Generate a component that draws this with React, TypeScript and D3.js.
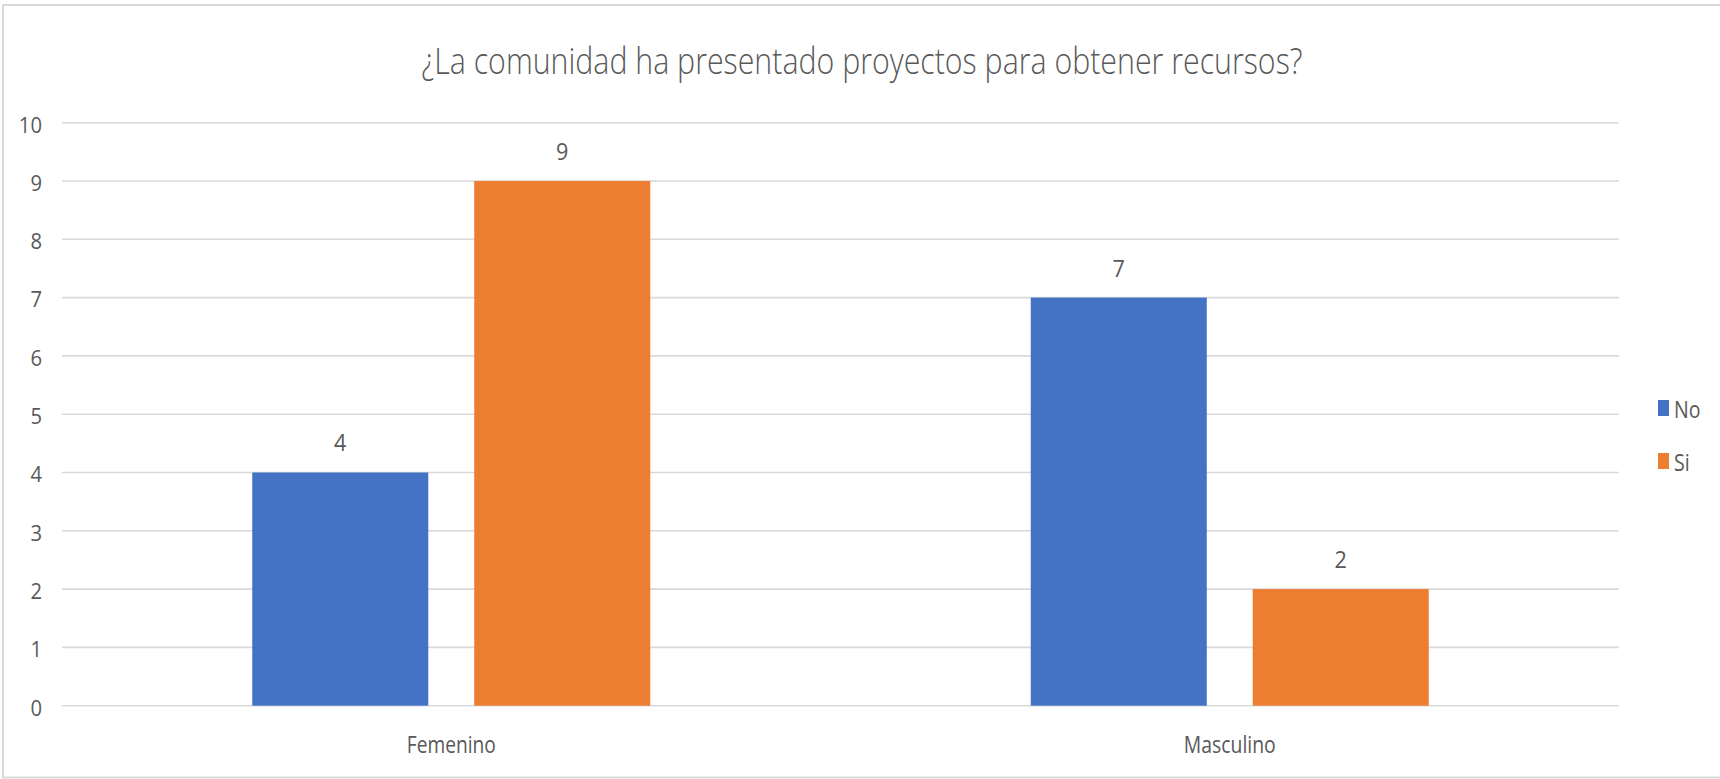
import React from "react";
import * as d3 from "d3";

const title = "¿La comunidad ha presentado proyectos para obtener recursos?";
const categories = ["Femenino", "Masculino"];
const seriesNames = ["No", "Si"];
const noValues = [4, 7];
const siValues = [9, 2];
const yTickValues = [0, 1, 2, 3, 4, 5, 6, 7, 8, 9, 10];
const seriesColors = ["#4472C4", "#ED7D31"];

const W = 1720;
const H = 779;
const FONT = "'Open Sans', 'Noto Sans', 'DejaVu Sans', sans-serif";
const TEXT = "#595959";
const GRID = "#d9d9d9";
const SX = 0.86;

function Txt({ x, y, size, children, anchor = "middle", weight = 400, sx = SX }: any) {
  return (
    <text
      transform={`translate(${x},${y}) scale(${sx},1)`}
      fontFamily={FONT}
      fontSize={size}
      fontWeight={weight}
      fill={TEXT}
      textAnchor={anchor}
      dominantBaseline="central"
    >
      {children}
    </text>
  );
}

export default function App() {
  const plotLeft = 62;
  const plotRight = 1619;
  const y = d3.scaleLinear().domain([0, 10]).range([705.7, 122.7]);
  const x0 = d3.scaleBand<string>().domain(categories).range([plotLeft, plotRight]).padding(0);
  const x1 = d3
    .scaleBand<string>()
    .domain(seriesNames)
    .range([0, x0.bandwidth()])
    .paddingInner(0.207)
    .paddingOuter(0.857);

  const series = [noValues, siValues];

  return (
    <svg
      width={W}
      height={H}
      style={{ position: "absolute", left: 0, top: 0, background: "#fff" }}
    >
      <rect x={0} y={0} width={W} height={H} fill="#fff" />
      <rect x={3} y={5} width={W + 20} height={772.5} fill="none" stroke={GRID} strokeWidth={2} />

      <text
        x={862}
        y={60}
        fontFamily={FONT}
        fontSize={36}
        fontWeight={300}
        fill={TEXT}
        textAnchor="middle"
        dominantBaseline="central"
        textLength={881}
        lengthAdjust="spacingAndGlyphs"
      >
        {title}
      </text>

      {yTickValues.map((t) => (
        <g key={t}>
          <line x1={plotLeft} x2={plotRight} y1={y(t)} y2={y(t)} stroke={GRID} strokeWidth={1.6} />
          <Txt x={42} y={y(t) + 1} size={22} anchor="end" sx={0.92}>
            {t}
          </Txt>
        </g>
      ))}

      {categories.map((c, ci) => (
        <g key={c}>
          {seriesNames.map((s, si) => {
            const v = series[si][ci];
            const bx = (x0(c) as number) + (x1(s) as number);
            const bw = x1.bandwidth();
            return (
              <g key={s}>
                <rect x={bx} y={y(v)} width={bw} height={y(0) - y(v)} fill={seriesColors[si]} />
                <Txt x={bx + bw / 2} y={y(v) - 30} size={24} sx={0.9}>
                  {v}
                </Txt>
              </g>
            );
          })}
          <text
            x={(x0(c) as number) + x0.bandwidth() / 2}
            y={744}
            fontFamily={FONT}
            fontSize={23}
            fill={TEXT}
            textAnchor="middle"
            dominantBaseline="central"
            textLength={ci === 0 ? 89 : 92}
            lengthAdjust="spacingAndGlyphs"
          >
            {c}
          </text>
        </g>
      ))}

      {seriesNames.map((s, si) => {
        const cy = 408 + si * 53;
        return (
          <g key={s}>
            <rect x={1658} y={cy - 8} width={11} height={16} fill={seriesColors[si]} />
            <Txt x={1674} y={cy + 1} size={23} anchor="start" sx={0.85}>
              {s}
            </Txt>
          </g>
        );
      })}
    </svg>
  );
}
